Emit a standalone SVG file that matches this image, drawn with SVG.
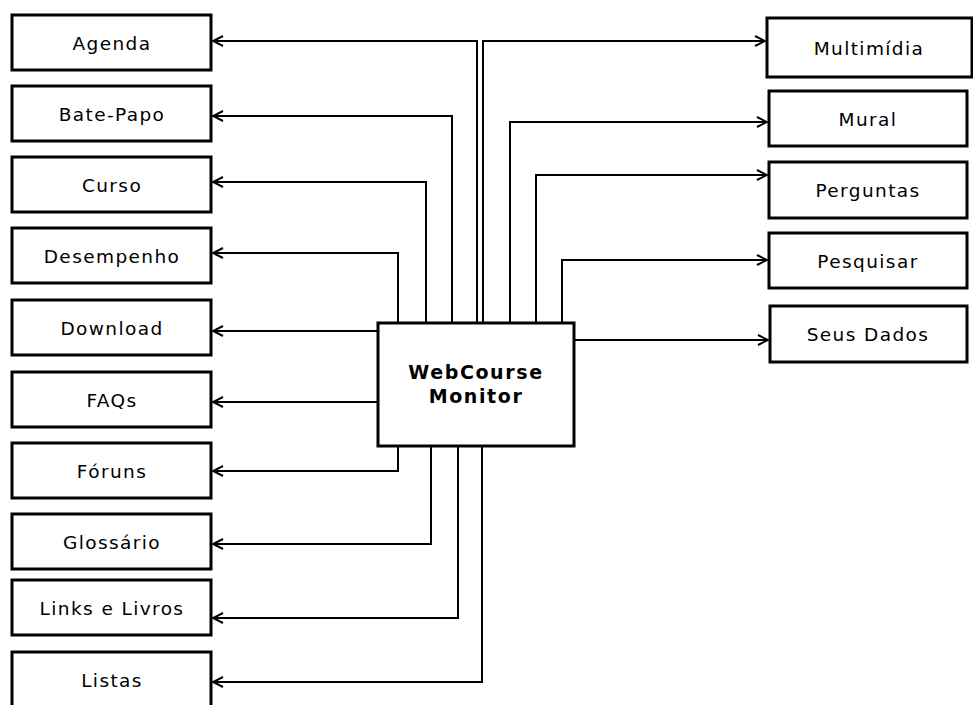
<svg xmlns="http://www.w3.org/2000/svg" width="973" height="705" viewBox="0 0 973 705">
<style>
.box{fill:#fff;stroke:#000;stroke-width:3}
.lbl{font-family:"DejaVu Sans","Liberation Sans",sans-serif;font-size:18.5px;letter-spacing:1.4px;text-anchor:middle;fill:#000}
.title{font-family:"DejaVu Sans","Liberation Sans",sans-serif;font-size:19px;font-weight:bold;letter-spacing:1.6px;text-anchor:middle;fill:#000}
.con{fill:none;stroke:#000;stroke-width:2}
</style>
<defs>
<marker id="arr" markerUnits="userSpaceOnUse" markerWidth="14" markerHeight="14" viewBox="-12 -7 14 14" refX="0" refY="0" orient="auto">
<path d="M-10,-5 L0,0 L-10,5" fill="none" stroke="#000" stroke-width="2"/>
</marker>
</defs>
<rect width="973" height="705" fill="#fff"/>
<g id="connectors">
<path class="con" marker-end="url(#arr)" d="M477,323 V41 H213"/>
<path class="con" marker-end="url(#arr)" d="M452,323 V116 H213"/>
<path class="con" marker-end="url(#arr)" d="M426,323 V182 H213"/>
<path class="con" marker-end="url(#arr)" d="M398,323 V253 H213"/>
<path class="con" marker-end="url(#arr)" d="M378,331 H213"/>
<path class="con" marker-end="url(#arr)" d="M378,402 H213"/>
<path class="con" marker-end="url(#arr)" d="M398,446 V471 H213"/>
<path class="con" marker-end="url(#arr)" d="M431,446 V544 H213"/>
<path class="con" marker-end="url(#arr)" d="M458,446 V618 H213"/>
<path class="con" marker-end="url(#arr)" d="M482,446 V682 H213"/>
<path class="con" marker-end="url(#arr)" d="M483,323 V41 H765"/>
<path class="con" marker-end="url(#arr)" d="M510,323 V122 H767"/>
<path class="con" marker-end="url(#arr)" d="M536,323 V175 H767"/>
<path class="con" marker-end="url(#arr)" d="M562,323 V260 H767"/>
<path class="con" marker-end="url(#arr)" d="M574,340 H768"/>
</g>
<g id="center"><rect class="box" x="378" y="323" width="196" height="123"/><text class="title" x="476" y="379">WebCourse</text><text class="title" x="476" y="403">Monitor</text></g>
<g id="agenda"><rect class="box" x="12" y="15" width="199" height="55"/><text class="lbl" x="112" y="50">Agenda</text></g>
<g id="batepapo"><rect class="box" x="12" y="86" width="199" height="55"/><text class="lbl" x="112" y="121">Bate-Papo</text></g>
<g id="curso"><rect class="box" x="12" y="157" width="199" height="55"/><text class="lbl" x="112" y="192">Curso</text></g>
<g id="desempenho"><rect class="box" x="12" y="228" width="199" height="55"/><text class="lbl" x="112" y="263">Desempenho</text></g>
<g id="download"><rect class="box" x="12" y="300" width="199" height="55"/><text class="lbl" x="112" y="335">Download</text></g>
<g id="faqs"><rect class="box" x="12" y="372" width="199" height="55"/><text class="lbl" x="112" y="407">FAQs</text></g>
<g id="foruns"><rect class="box" x="12" y="443" width="199" height="55"/><text class="lbl" x="112" y="478">Fóruns</text></g>
<g id="glossario"><rect class="box" x="12" y="514" width="199" height="55"/><text class="lbl" x="112" y="549">Glossário</text></g>
<g id="links"><rect class="box" x="12" y="580" width="199" height="55"/><text class="lbl" x="112" y="615">Links e Livros</text></g>
<g id="listas"><rect class="box" x="12" y="652" width="199" height="55"/><text class="lbl" x="112" y="687">Listas</text></g>
<g id="multimidia"><rect class="box" x="767" y="18" width="205" height="59"/><text class="lbl" x="869" y="55">Multimídia</text></g>
<g id="mural"><rect class="box" x="769" y="91" width="198" height="55"/><text class="lbl" x="868" y="126">Mural</text></g>
<g id="perguntas"><rect class="box" x="769" y="162" width="198" height="56"/><text class="lbl" x="868" y="197">Perguntas</text></g>
<g id="pesquisar"><rect class="box" x="769" y="233" width="198" height="55"/><text class="lbl" x="868" y="268">Pesquisar</text></g>
<g id="seusdados"><rect class="box" x="770" y="306" width="197" height="56"/><text class="lbl" x="868" y="341">Seus Dados</text></g>
</svg>
